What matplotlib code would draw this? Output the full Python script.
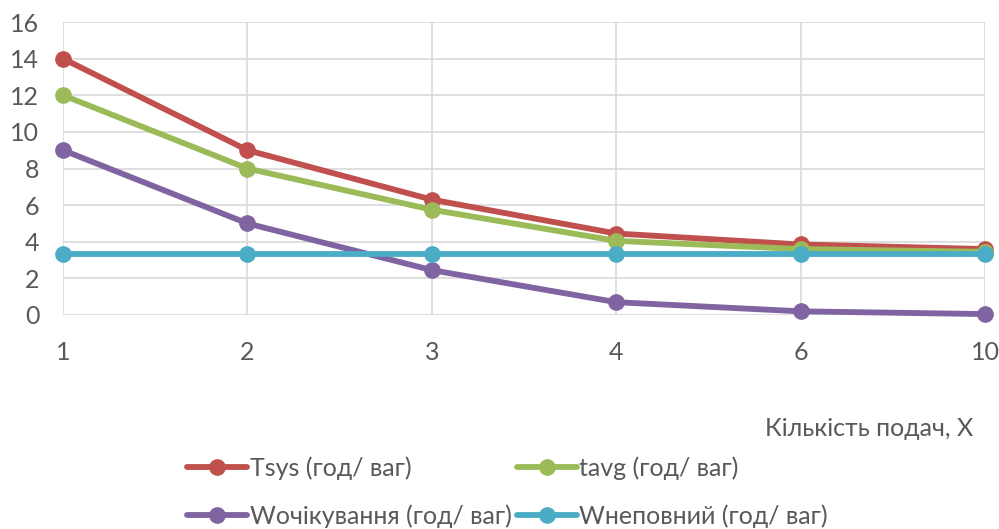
import matplotlib
matplotlib.use('Agg')
import matplotlib.pyplot as plt

plt.rcParams['font.family'] = ['Lato', 'Open Sans', 'DejaVu Sans']

# data
categories = ['1', '2', '3', '4', '6', '10']
t_sys = [14, 9, 6.3, 4.45, 3.85, 3.6]
t_avg = [12, 8, 5.75, 4.05, 3.6, 3.45]
w_wait = [9, 5, 2.45, 0.7, 0.2, 0.05]
w_part = [3.33, 3.33, 3.33, 3.33, 3.33, 3.33]

series = [
    ('Tsys (год/ ваг)', t_sys, '#C0504D'),
    ('tavg (год/ ваг)', t_avg, '#9BBB59'),
    ('Wочікування (год/ ваг)', w_wait, '#8064A2'),
    ('Wнеповний (год/ ваг)', w_part, '#4BACC6'),
]

fig = plt.figure(figsize=(9.99, 5.29), dpi=100)
ax = fig.add_axes([63 / 999, 1 - 315 / 529, 922 / 999, 293 / 529])

x = list(range(len(categories)))
lines = []
for label, vals, color in series:
    ln, = ax.plot(x, vals, color=color, lw=4.2, marker='o', markersize=11,
                  label=label, solid_capstyle='round', clip_on=False, zorder=3)
    lines.append(ln)

ax.set_xlim(0, len(categories) - 1)
ax.set_ylim(0, 16)
ax.set_yticks(range(0, 17, 2))
ax.set_xticks(x)
ax.set_xticklabels(categories)
ax.grid(True, color='#D9D9D9', lw=1.2)
for s in ax.spines.values():
    s.set_visible(False)
ax.tick_params(length=0, labelsize=18, labelcolor='#595959')
ax.tick_params(axis='x', pad=19)
ax.tick_params(axis='y', pad=17)

fig.text(973 / 999, 1 - 428 / 529, 'Кількість подач, X', ha='right', va='center',
         fontsize=18, color='#595959')

# row-major order like the original legend
order = [0, 2, 1, 3]
leg = fig.legend([lines[i] for i in order], [series[i][0] for i in order],
                 loc='center', bbox_to_anchor=(0.508, 1 - 492 / 529), ncol=2,
                 frameon=False, fontsize=18, handlelength=2.4, handletextpad=0.1,
                 columnspacing=0.2, labelspacing=1.0)
for t in leg.get_texts():
    t.set_color('#595959')

fig.savefig('out.png', dpi=100)
